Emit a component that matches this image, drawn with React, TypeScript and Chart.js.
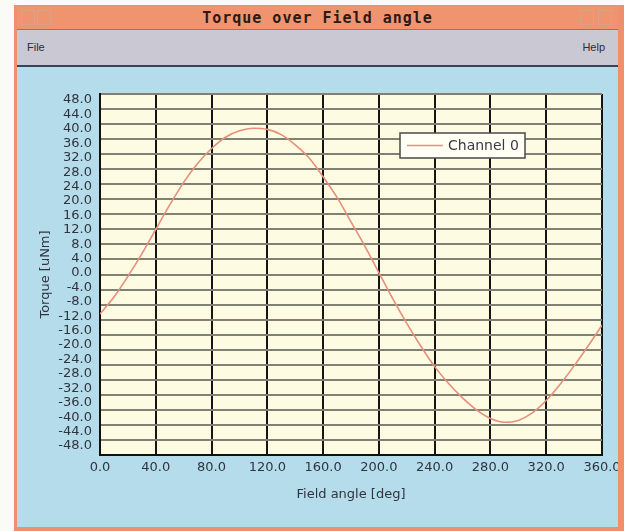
import { useEffect, useRef } from 'react';
import { Chart, registerables } from 'chart.js';

Chart.register(...registerables);

const WINDOW_TITLE = 'Torque over Field angle';
const MENU_ITEMS = ['File', 'Help'];
const SERIES_LABEL = 'Channel 0';
const X_TITLE = 'Field angle [deg]';
const Y_TITLE = 'Torque [uNm]';

const ANGLES = [0, 10, 20, 30, 40, 50, 60, 70, 80, 90, 100, 110, 120, 130, 140, 150, 160, 170, 180, 190, 200, 210, 220, 230, 240, 250, 260, 270, 280, 290, 300, 310, 320, 330, 340, 350, 360];
const TORQUE = [-10.5, -6, -0.5, 5.5, 12, 18.5, 24.5, 29.5, 33.5, 36.5, 38.2, 38.9, 38.6, 37.2, 34.5, 31, 26, 20.5, 14, 7.5, 0.5, -6.5, -13, -19, -24.5, -29, -32.8, -36, -38.3, -39.3, -38.8, -36.8, -33.5, -29.2, -24.3, -19, -13.5];

const X_TICKS = [0, 40, 80, 120, 160, 200, 240, 280, 320, 360];
const Y_TICKS = [-48, -44, -40, -36, -32, -28, -24, -20, -16, -12, -8, -4, 0, 4, 8, 12, 16, 20, 24, 28, 32, 36, 40, 44, 48];

const FONT = '"DejaVu Sans", "Liberation Sans", Arial, sans-serif';

const plotBg = {
  id: 'plotBg',
  beforeDraw(chart: any) {
    const { ctx, chartArea: a } = chart;
    ctx.save();
    ctx.fillStyle = '#fdfbe1';
    ctx.fillRect(a.left, a.top, a.right - a.left, a.bottom - a.top);
    ctx.restore();
  },
};

const boxLegend = {
  id: 'boxLegend',
  afterDraw(chart: any) {
    const { ctx, chartArea: a } = chart;
    const ds = chart.data.datasets[0];
    const x = a.left + 300;
    const y = a.top + 39;
    const w = 125;
    const h = 25;
    ctx.save();
    ctx.fillStyle = '#fffff4';
    ctx.fillRect(x, y, w, h);
    ctx.strokeStyle = '#4a4a4a';
    ctx.lineWidth = 1.5;
    ctx.strokeRect(x, y, w, h);
    ctx.strokeStyle = ds.borderColor;
    ctx.lineWidth = 1.5;
    ctx.beginPath();
    ctx.moveTo(x + 7, y + h / 2);
    ctx.lineTo(x + 43, y + h / 2);
    ctx.stroke();
    ctx.fillStyle = '#3a3a48';
    ctx.font = '14px ' + FONT;
    ctx.textBaseline = 'middle';
    ctx.fillText(ds.label, x + 48, y + h / 2 + 1);
    ctx.restore();
  },
};

const tickFont = { family: FONT, size: 13 };
const tickColor = '#30343f';

export default function App() {
  const ref = useRef<HTMLCanvasElement>(null);

  useEffect(() => {
    document.body.style.margin = '0';
    const chart = new Chart(ref.current as HTMLCanvasElement, {
      type: 'line',
      data: {
        datasets: [
          {
            label: SERIES_LABEL,
            data: ANGLES.map((a, i) => ({ x: a, y: TORQUE[i] })),
            borderColor: '#e58f7c',
            borderWidth: 1.6,
            pointRadius: 0,
            cubicInterpolationMode: 'monotone',
            fill: false,
          },
        ],
      },
      options: {
        animation: false,
        responsive: false,
        layout: { padding: { top: 27, right: 16, left: 0, bottom: 0 } },
        plugins: { legend: { display: false }, tooltip: { enabled: false } },
        scales: {
          x: {
            type: 'linear',
            position: 'bottom',
            min: 0,
            max: 360,
            afterBuildTicks: (s: any) => {
              s.ticks = X_TICKS.map((v) => ({ value: v }));
            },
            ticks: {
              autoSkip: false,
              maxRotation: 0,
              padding: 5,
              font: tickFont,
              color: tickColor,
              callback: (v: any) => Number(v).toFixed(1),
            },
            grid: { color: '#151515', lineWidth: 2, drawTicks: false },
            border: { display: true, color: '#111', width: 2 },
            title: {
              display: true,
              text: X_TITLE,
              font: { family: FONT, size: 13 },
              color: tickColor,
              padding: { top: 0, bottom: 25 },
            },
            afterFit: (s: any) => {
              s.height = 72;
              s.paddingLeft = 0;
              s.paddingRight = 0;
            },
          },
          y: {
            type: 'linear',
            position: 'left',
            weight: 0,
            min: -48,
            max: 48,
            ticks: { display: false, stepSize: 4 },
            grid: { color: '#808073', lineWidth: 2, drawTicks: false },
            border: { display: true, color: '#111', width: 2 },
            afterFit: (s: any) => {
              s.width = 0;
            },
          },
          yl: {
            type: 'linear',
            position: 'left',
            weight: 1,
            min: -50.5,
            max: 49.7,
            afterBuildTicks: (s: any) => {
              s.ticks = Y_TICKS.map((v) => ({ value: v }));
            },
            ticks: {
              autoSkip: false,
              padding: 8,
              font: tickFont,
              color: tickColor,
              callback: (v: any) => Number(v).toFixed(1),
            },
            grid: { display: false, drawTicks: false },
            border: { display: false },
            title: {
              display: true,
              text: Y_TITLE,
              font: { family: FONT, size: 13 },
              color: tickColor,
              padding: { top: 21, bottom: 0 },
            },
            afterFit: (s: any) => {
              s.width = 83;
              s.paddingTop = 0;
              s.paddingBottom = 0;
            },
          },
        },
      },
      plugins: [plotBg, boxLegend],
    } as any);
    return () => chart.destroy();
  }, []);

  return (
    <div
      style={{
        position: 'absolute',
        left: 0,
        top: 0,
        width: 624,
        height: 531,
        background: '#fbfbf6',
        overflow: 'hidden',
        fontFamily: '"Liberation Sans", Arial, sans-serif',
      }}
    >
      <div style={{ position: 'absolute', left: 14, top: 5, width: 610, height: 526, background: '#ee906e' }} />
      <div
        style={{
          position: 'absolute',
          left: 17,
          top: 6,
          width: 601,
          height: 23,
          background: '#f0946f',
          borderBottom: '1px solid #b86a50',
        }}
      >
        <div style={{ position: 'absolute', left: 4, top: 4, width: 12, height: 13, border: '1px solid #d9a08a' }} />
        <div style={{ position: 'absolute', left: 20, top: 4, width: 12, height: 13, border: '1px solid #d9a08a' }} />
        <div style={{ position: 'absolute', right: 24, top: 4, width: 12, height: 13, border: '1px solid #d9a08a' }} />
        <div style={{ position: 'absolute', right: 6, top: 4, width: 12, height: 13, border: '1px solid #d9a08a' }} />
        <div
          style={{
            position: 'absolute',
            left: 0,
            right: 0,
            top: 3,
            textAlign: 'center',
            fontFamily: '"DejaVu Sans Mono", monospace',
            fontWeight: 'bold',
            fontSize: 15,
            letterSpacing: 1,
            color: '#2a1a18',
            lineHeight: '18px',
          }}
        >
          {WINDOW_TITLE}
        </div>
      </div>
      <div
        style={{
          position: 'absolute',
          left: 17,
          top: 30,
          width: 601,
          height: 35,
          background: '#c9c8d3',
          borderBottom: '2px solid #3c4252',
        }}
      >
        <div style={{ position: 'absolute', left: 10, top: 11, fontSize: 11, color: '#2c2c38' }}>{MENU_ITEMS[0]}</div>
        <div style={{ position: 'absolute', right: 13, top: 11, fontSize: 11, color: '#2c2c38' }}>{MENU_ITEMS[1]}</div>
      </div>
      <div style={{ position: 'absolute', left: 17, top: 67, width: 601, height: 460, background: '#b5dcea' }}>
        <canvas ref={ref} width={601} height={460} style={{ display: 'block', width: 601, height: 460 }} />
      </div>
    </div>
  );
}
